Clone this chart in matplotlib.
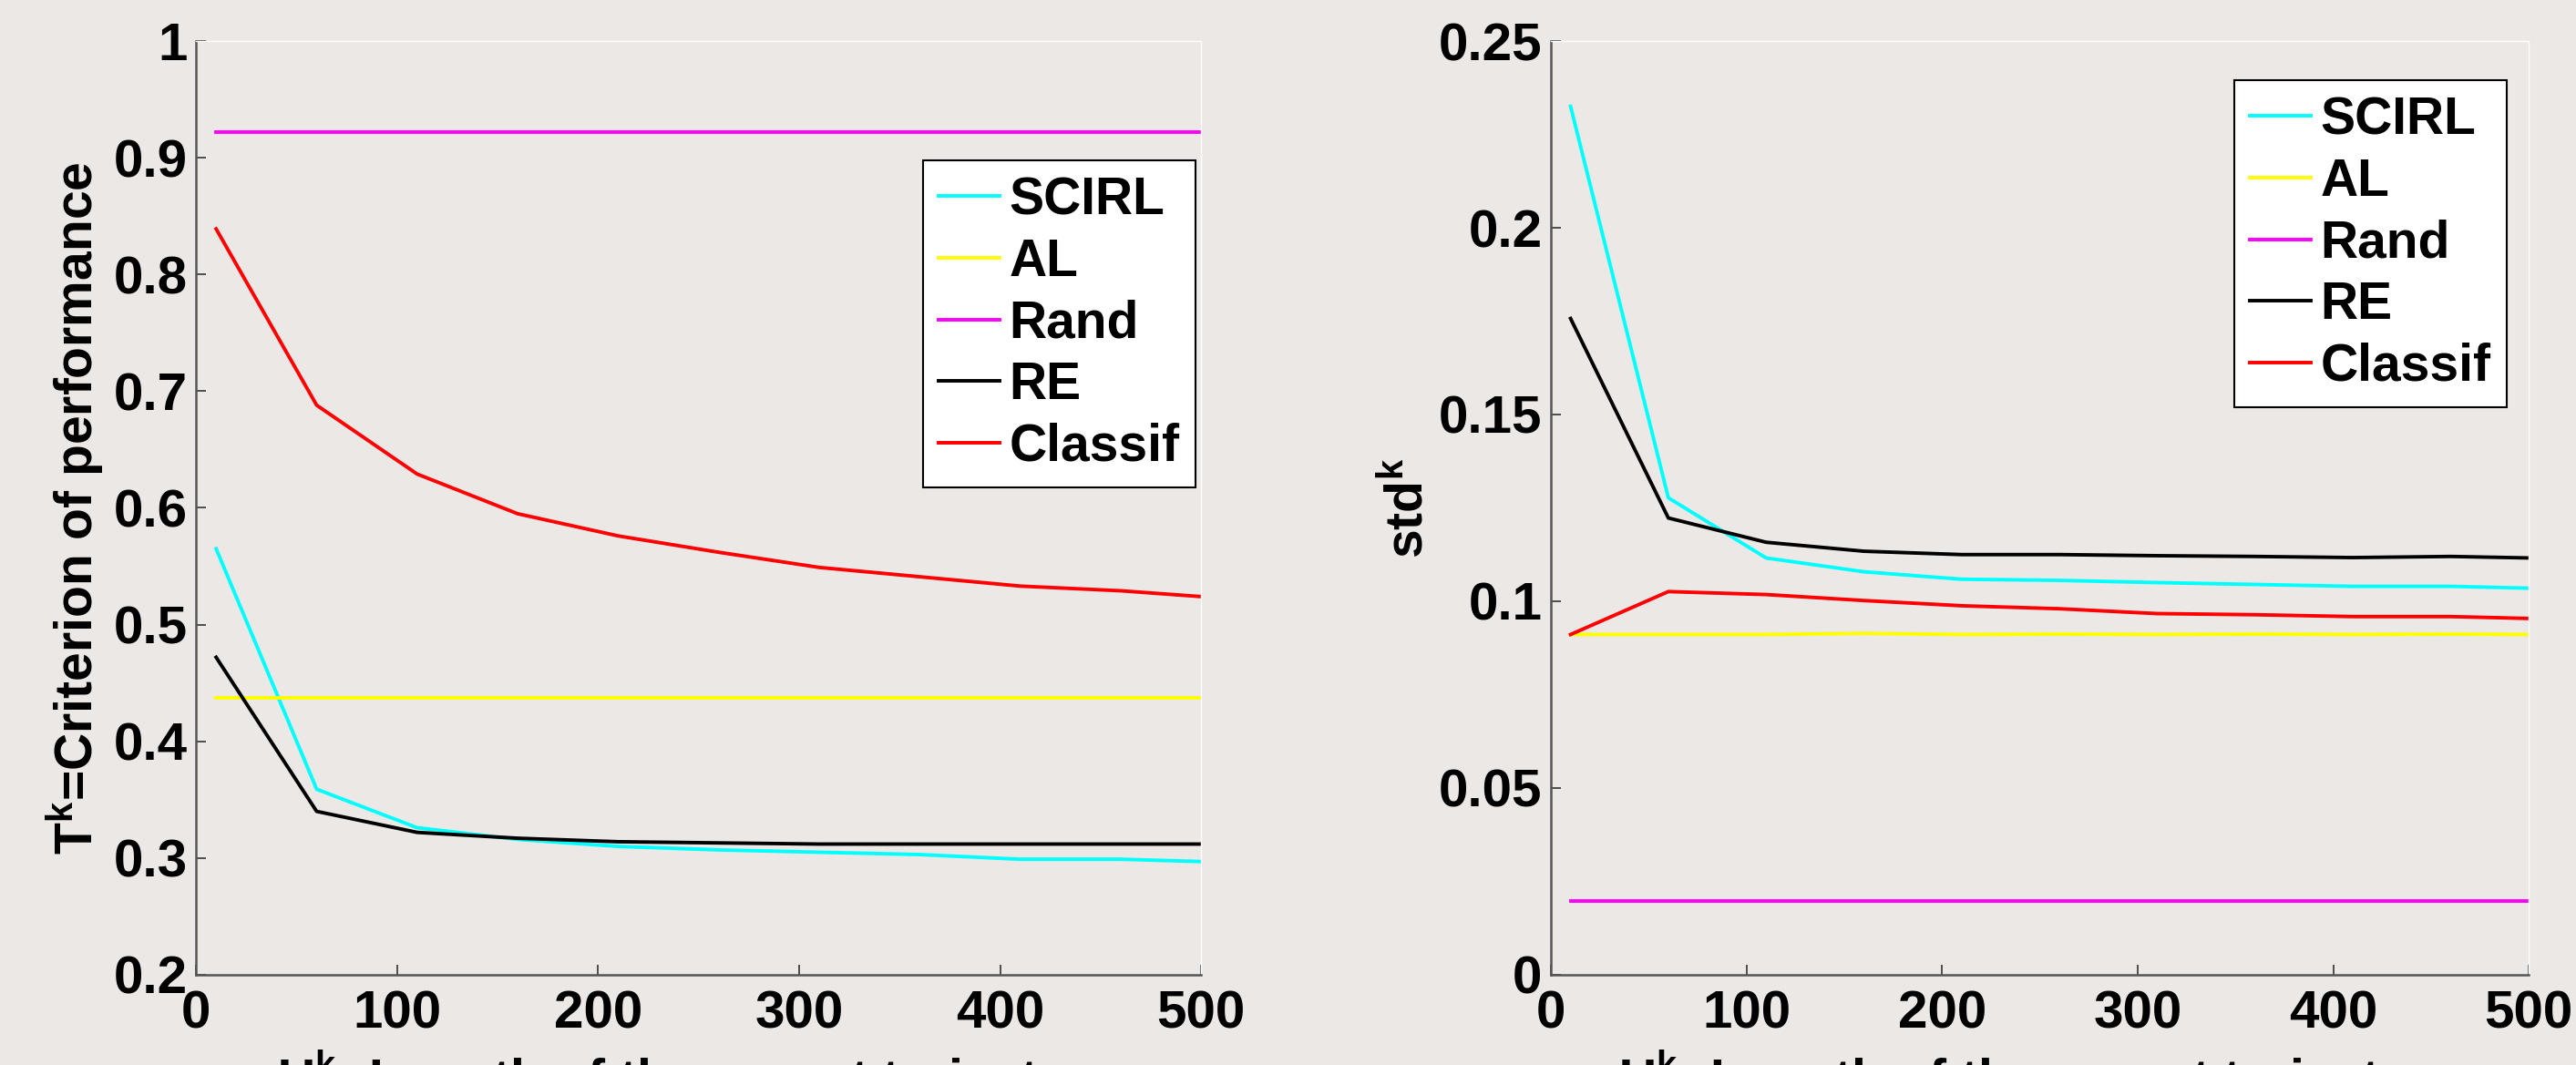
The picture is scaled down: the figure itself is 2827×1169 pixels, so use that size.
import matplotlib
matplotlib.use("Agg")
import matplotlib.pyplot as plt

# Data
x = [10, 60, 110, 160, 210, 260, 310, 360, 410, 460, 500]

# Left panel: criterion of performance T^k
perf_scirl = [0.565, 0.359, 0.326, 0.316, 0.310, 0.307, 0.305, 0.303, 0.299, 0.299, 0.297]
perf_al = [0.437] * 11
perf_rand = [0.922] * 11
perf_re = [0.472, 0.340, 0.322, 0.317, 0.314, 0.313, 0.312, 0.312, 0.312, 0.312, 0.312]
perf_classif = [0.839, 0.688, 0.629, 0.595, 0.576, 0.562, 0.549, 0.541, 0.533, 0.529, 0.524]

# Right panel: std^k
std_scirl = [0.2325, 0.1277, 0.1116, 0.1079, 0.1059, 0.1056, 0.1050, 0.1045, 0.1040, 0.1040, 0.1035]
std_al = [0.0911, 0.0911, 0.0911, 0.0914, 0.0911, 0.0912, 0.0911, 0.0912, 0.0911, 0.0912, 0.0911]
std_rand = [0.0198] * 11
std_re = [0.1757, 0.1223, 0.1158, 0.1134, 0.1125, 0.1125, 0.1122, 0.1120, 0.1117, 0.1120, 0.1116]
std_classif = [0.0911, 0.1026, 0.1018, 0.1002, 0.0988, 0.0980, 0.0967, 0.0964, 0.0959, 0.0959, 0.0954]

labels = ["SCIRL", "AL", "Rand", "RE", "Classif"]
colors = ["#00ffff", "#ffff00", "#ff00ff", "#000000", "#ff0000"]

bg = "#ece8e6"
plt.rcParams["font.family"] = ["Liberation Sans", "DejaVu Sans"]
plt.rcParams["font.weight"] = "bold"
plt.rcParams["mathtext.fontset"] = "custom"
plt.rcParams["mathtext.rm"] = "Liberation Sans:bold"
plt.rcParams["mathtext.it"] = "Liberation Sans:bold"
plt.rcParams["mathtext.bf"] = "Liberation Sans:bold"

fig = plt.figure(figsize=(28.27, 11.69), dpi=100, facecolor=bg)
ax1 = fig.add_axes([0.0761, 0.0847, 0.3902, 0.8768])
ax2 = fig.add_axes([0.6021, 0.0847, 0.3796, 0.8768])


def style(ax, ylim, yticks, yticklabels, legend_anchor):
    ax.set_facecolor(bg)
    ax.set_xlim(0, 500)
    ax.set_ylim(*ylim)
    ax.set_xticks([0, 100, 200, 300, 400, 500])
    ax.set_yticks(yticks)
    ax.set_yticklabels(yticklabels)
    ax.tick_params(direction="in", length=8, width=1.2, color="#333333",
                   labelsize=42, top=False, right=False)
    ax.tick_params(axis="x", pad=12)
    ax.tick_params(axis="y", pad=7)
    for lab in ax.get_xticklabels() + ax.get_yticklabels():
        lab.set_fontweight("bold")
    for s in ["left", "bottom"]:
        ax.spines[s].set_color("#555555")
        ax.spines[s].set_linewidth(1.8)
    for s in ["top", "right"]:
        ax.spines[s].set_color("white")
        ax.spines[s].set_linewidth(1.0)
    leg = ax.legend(loc="upper right", bbox_to_anchor=legend_anchor, borderaxespad=0,
                    fancybox=False, framealpha=1, edgecolor="black",
                    prop={"size": 41, "weight": "bold"},
                    handlelength=1.18, handletextpad=0.18, labelspacing=0.24,
                    borderpad=0.3)
    leg.get_frame().set_linewidth(1.5)


series1 = [perf_scirl, perf_al, perf_rand, perf_re, perf_classif]
for y, c, l in zip(series1, colors, labels):
    ax1.plot(x, y, color=c, lw=2.8, label=l)
style(ax1, (0.2, 1.0), [0.2, 0.3, 0.4, 0.5, 0.6, 0.7, 0.8, 0.9, 1.0],
      ["0.2", "0.3", "0.4", "0.5", "0.6", "0.7", "0.8", "0.9", "1"], (0.994, 0.872))
ax1.set_ylabel("T$^k$=Criterion of performance", fontsize=41, fontweight="bold")
ax1.yaxis.set_label_coords(-0.09, 0.5)
ax1.set_xlabel("U$^k$: Length of the expert trajectory", fontsize=41, fontweight="bold")
ax1.xaxis.set_label_coords(0.5, -0.078)

series2 = [std_scirl, std_al, std_rand, std_re, std_classif]
for y, c, l in zip(series2, colors, labels):
    ax2.plot(x, y, color=c, lw=2.8, label=l)
style(ax2, (0, 0.25), [0, 0.05, 0.1, 0.15, 0.2, 0.25],
      ["0", "0.05", "0.1", "0.15", "0.2", "0.25"], (0.977, 0.958))
ax2.set_ylabel("std$^k$", fontsize=41, fontweight="bold")
ax2.yaxis.set_label_coords(-0.12, 0.5)
ax2.set_xlabel("U$^k$: Length of the expert trajectory", fontsize=41, fontweight="bold")
ax2.xaxis.set_label_coords(0.5, -0.078)

fig.savefig("out.png", dpi=100, facecolor=bg)
